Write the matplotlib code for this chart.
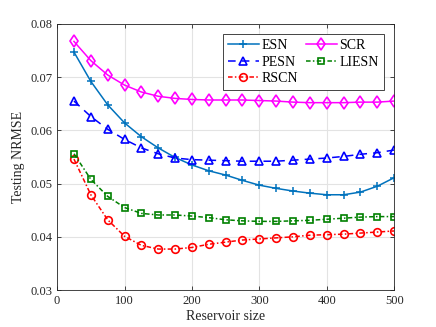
import matplotlib
matplotlib.use("Agg")
import matplotlib.pyplot as plt
import numpy as np

plt.rcParams['font.family'] = ['Liberation Serif', 'DejaVu Serif']
plt.rcParams['mathtext.fontset'] = 'stix'

sizes = [25, 50, 75, 100, 125, 150, 175, 200, 225, 250, 275, 300, 325, 350, 375, 400, 425, 450, 475, 500]
esn = [0.0747, 0.0692, 0.0648, 0.0614, 0.0588, 0.0567, 0.0549, 0.0535, 0.0524, 0.0516, 0.0506, 0.0497,
       0.0491, 0.0486, 0.0482, 0.0479, 0.0479, 0.0484, 0.0495, 0.0511]
scr = [0.0767, 0.0731, 0.0704, 0.0685, 0.0672, 0.0664, 0.0660, 0.0658, 0.0657, 0.0657, 0.0657, 0.0656,
       0.0655, 0.0653, 0.0652, 0.0652, 0.0652, 0.0653, 0.0653, 0.0655]
pesn = [0.0655, 0.0626, 0.0602, 0.0583, 0.0567, 0.0556, 0.0548, 0.0545, 0.0544, 0.0543, 0.0542, 0.0542,
        0.0542, 0.0544, 0.0546, 0.0548, 0.0551, 0.0555, 0.0558, 0.0563]
liesn = [0.0556, 0.0508, 0.0476, 0.0455, 0.0444, 0.0441, 0.0441, 0.0439, 0.0436, 0.0432, 0.0430, 0.0429,
         0.0429, 0.0430, 0.0431, 0.0433, 0.0435, 0.0437, 0.0438, 0.0438]
rscn = [0.0546, 0.0479, 0.0432, 0.0401, 0.0384, 0.0377, 0.0377, 0.0380, 0.0386, 0.0390, 0.0394, 0.0396,
        0.0398, 0.0400, 0.0403, 0.0404, 0.0405, 0.0407, 0.0409, 0.0411]

fig = plt.figure(figsize=(4.36, 3.27), dpi=100)
ax = fig.add_axes([0.131, 0.113, 0.773, 0.814])

lw = 1.1
ax.plot(sizes, esn, color='#0072BD', linestyle='-', marker='+', markersize=5.5, markeredgewidth=1.1, lw=lw, label='ESN')
ax.plot(sizes, pesn, color='#0000FF', linestyle=(0, (5, 4)), marker='^', markersize=6, markerfacecolor='none',
        markeredgewidth=1.2, lw=lw, label='PESN')
ax.plot(sizes, rscn, color='#FF0000', linestyle=(0, (3, 1.5, 1, 1.5)), marker='o', markersize=5.5, markerfacecolor='none',
        markeredgewidth=1.2, lw=lw, label='RSCN')
ax.plot(sizes, scr, color='#FF00FF', linestyle='-', marker='d', markersize=6, markerfacecolor='none',
        markeredgewidth=1.2, lw=lw, label='SCR')
ax.plot(sizes, liesn, color='#008000', linestyle=(0, (3, 1.5, 1, 1.5)), marker='s', markersize=4.5, markerfacecolor='none',
        markeredgewidth=1.2, lw=lw, label='LIESN')

ax.set_xlim(0, 500)
ax.set_ylim(0.03, 0.08)
ax.set_xticks([0, 100, 200, 300, 400, 500])
ax.set_yticks([0.03, 0.04, 0.05, 0.06, 0.07, 0.08])
ax.set_yticklabels(['0.03', '0.04', '0.05', '0.06', '0.07', '0.08'])
ax.grid(True, color='#e3e3e3', linewidth=0.8)
ax.set_axisbelow(True)
ax.tick_params(direction='in', labelsize=9, length=3, width=0.6, colors='#262626', top=True, right=True)
for s in ax.spines.values():
    s.set_color('#262626')
    s.set_linewidth(0.6)

ax.set_xlabel('Reservoir size', fontsize=10, color='#262626', labelpad=2)
ax.set_ylabel('Testing NRMSE', fontsize=10, color='#262626', labelpad=4)

leg = ax.legend(ncol=2, loc='upper right', fontsize=10, frameon=True, fancybox=False, edgecolor='#262626',
                framealpha=1, handlelength=2.2, columnspacing=0.6, handletextpad=0.2, labelspacing=0.25,
                borderpad=0.35, borderaxespad=0.75)
leg.get_frame().set_linewidth(0.6)

fig.savefig('out.png', dpi=100)
